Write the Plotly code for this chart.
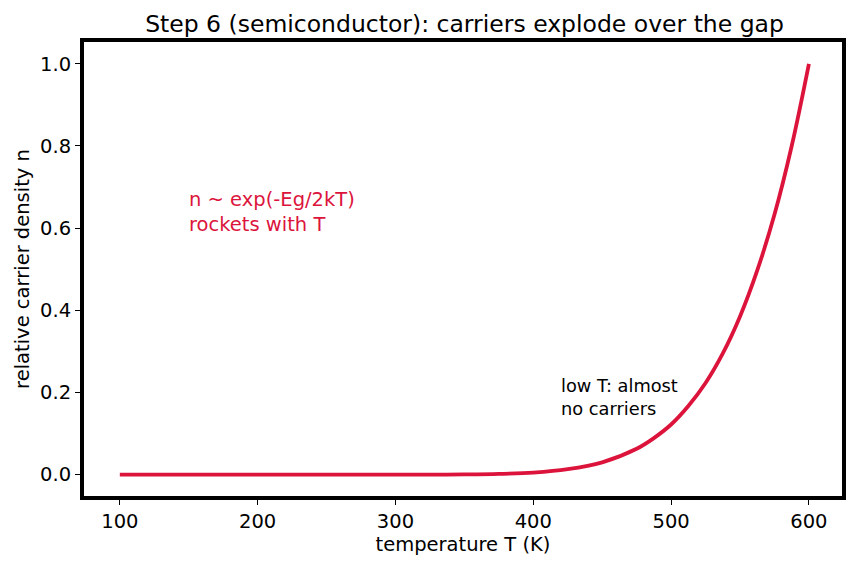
import plotly.graph_objects as go

# Temperature (K) and relative carrier density
temperature = [100, 150, 200, 250, 300, 325, 350, 375, 400, 425, 450, 475,
               487.5, 500, 512.5, 525, 537.5, 550, 562.5, 575, 587.5, 600]
density = [0.0, 0.0, 0.0, 0.0, 0.00003, 0.0001, 0.0005, 0.0018, 0.005, 0.0133,
           0.030, 0.063, 0.089, 0.122, 0.167, 0.223, 0.295, 0.385, 0.497,
           0.633, 0.80, 1.0]

x_ticks = [100, 200, 300, 400, 500, 600]
y_ticks = [0.0, 0.2, 0.4, 0.6, 0.8, 1.0]

CRIMSON = "#DC143C"
FONT = "DejaVu Sans"

fig = go.Figure()
fig.add_trace(go.Scatter(x=temperature, y=density, mode="lines",
                         line=dict(color=CRIMSON, width=3.8, shape="spline"),
                         showlegend=False, hoverinfo="skip"))

fig.add_annotation(x=150, y=0.6, xref="x", yref="y",
                   text="n ~ exp(-Eg/2kT)<br>rockets with T",
                   showarrow=False, xanchor="left", yanchor="bottom", align="left",
                   xshift=-2, yshift=-10,
                   font=dict(family=FONT, size=19.5, color=CRIMSON))
fig.add_annotation(x=420, y=0.15, xref="x", yref="y",
                   text="low T: almost<br>no carriers",
                   showarrow=False, xanchor="left", yanchor="bottom", align="left",
                   xshift=-2, yshift=-8,
                   font=dict(family=FONT, size=17.8, color="black"))

axis_common = dict(showline=True, linecolor="black", linewidth=4, mirror=True,
                   ticks="outside", ticklen=5, tickwidth=1, tickcolor="black",
                   showgrid=False, zeroline=False,
                   tickfont=dict(family=FONT, size=19.5, color="black"))

fig.update_layout(
    width=858, height=569,
    margin=dict(l=84, r=13, t=42, b=73),
    paper_bgcolor="white", plot_bgcolor="white",
    title=dict(text="Step 6 (semiconductor): carriers explode over the gap",
               x=0.5414, xanchor="center", y=0.958, yanchor="middle",
               font=dict(family=FONT, size=23.5, color="black")),
    xaxis=dict(range=[74, 624], tickvals=x_ticks,
               title=dict(text="temperature T (K)", standoff=4,
                          font=dict(family=FONT, size=19.5, color="black")),
               **axis_common),
    yaxis=dict(range=[-0.052, 1.053], tickvals=y_ticks, tickformat=".1f",
               title=dict(text="relative carrier density n", standoff=6,
                          font=dict(family=FONT, size=19.5, color="black")),
               **axis_common),
)

fig.write_html("out.html")
